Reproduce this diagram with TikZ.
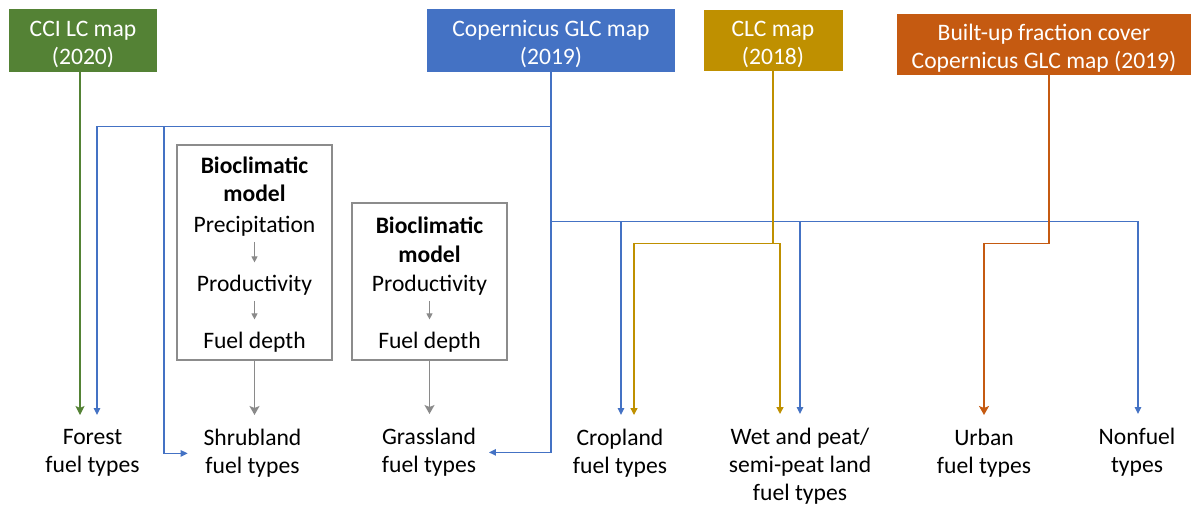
\documentclass[tikz,border=0pt]{standalone}
\usepackage{fontspec}
\setmainfont{Carlito}
\usetikzlibrary{arrows.meta}
\definecolor{ccigreen}{HTML}{548235}
\definecolor{glcblue}{HTML}{4472C4}
\definecolor{clcgold}{HTML}{BF9000}
\definecolor{buorange}{HTML}{C55A11}
\definecolor{boxgray}{HTML}{8C8C8C}
\definecolor{arrowgray}{HTML}{8A8A8A}
\begin{document}
\begin{tikzpicture}[
  x=0.5pt, y=-0.5pt,
  font=\fontsize{11.8}{14.25}\selectfont,
  src/.style={fill=#1, text=white, align=center, inner sep=0pt, minimum height=31.5pt,
    text height=24pt, text depth=0pt},
  lbl/.style={align=center, anchor=north, inner xsep=0pt, inner ysep=7pt,
    font=\fontsize{11.8}{13.9}\selectfont},
  modelbox/.style={draw=boxgray, line width=0.6pt, minimum width=77.5pt, inner sep=0pt},
  mtitle/.style={align=center, anchor=north, inner sep=0pt, font=\fontsize{11.8}{14.25}\selectfont\bfseries},
  mtext/.style={anchor=base, inner sep=0pt},
  bluearrow/.style={draw=glcblue, line width=0.7pt, -{Triangle[length=3.5pt,width=3.2pt]}},
  goldarrow/.style={draw=clcgold, line width=0.7pt, -{Triangle[length=3.5pt,width=3.5pt]}},
  greenarrow/.style={draw=ccigreen, line width=0.7pt, -{Stealth[length=4.5pt,width=4.5pt,inset=1pt]}},
  orangearrow/.style={draw=buorange, line width=0.8pt, -{Stealth[length=4.5pt,width=5pt,inset=1pt]}},
  grayarrow/.style={draw=arrowgray, line width=0.7pt, -{Stealth[length=4.5pt,width=5pt,inset=1pt]}},
  steparrow/.style={draw=arrowgray, line width=0.5pt, -{Triangle[length=3pt,width=3pt]}, shorten <=2.75pt, shorten >=6pt}
]
  \useasboundingbox (0,0) rectangle (1192,504);

  % map sources
  \node[src=ccigreen, minimum width=74pt] (cci) at (83,40.5) {CCI LC map\\(2020)};
  \node[src=glcblue, minimum width=124pt] (glc) at (551,40.5) {Copernicus GLC map\\(2019)};
  \node[src=clcgold, minimum width=69.5pt, minimum height=30.5pt] (clc) at (773,40.5) {CLC map\\(2018)};
  \node[src=buorange, minimum width=147pt, minimum height=30.5pt] (bu) at (1044,44.5) {Built-up fraction cover\\Copernicus GLC map (2019)};

  % fuel type classes
  \node[lbl] (forest) at (92.5,415) {Forest\\fuel types};
  \node[lbl] (shrub) at (252.5,415) {Shrubland\\fuel types};
  \node[lbl] (grass) at (429,414) {Grassland\\fuel types};
  \node[lbl] (crop) at (620,415) {Cropland\\fuel types};
  \node[lbl] (wet) at (800,414) {Wet and peat/\\semi-peat land\\fuel types};
  \node[lbl] (urban) at (984,415) {Urban\\fuel types};
  \node[lbl] (nonfuel) at (1137,414) {Nonfuel\\types};

  % bioclimatic model for shrubland
  \node[modelbox, minimum height=107.5pt] (shrubbox) at (254.5,252.5) {};
  \node[mtitle] (sbio) at (254.5,156.5) {Bioclimatic\\model};
  \node[mtext] (sprec) at (254.5,232.2) {Precipitation};
  \node[mtext] (sprod) at (254.5,291.2) {Productivity};
  \node[mtext] (sdepth) at (254.5,348.2) {Fuel depth};
  \draw[steparrow] (sprec.south) -- (sprec.south |- sprod.north);
  \draw[steparrow] (sprod.south) -- (sprod.south |- sdepth.north);

  % bioclimatic model for grassland
  \node[modelbox, minimum height=78.5pt] (grassbox) at (429.5,281.5) {};
  \node[mtitle] (gbio) at (429.5,216.5) {Bioclimatic\\model};
  \node[mtext] (gprod) at (429.5,291.2) {Productivity};
  \node[mtext] (gdepth) at (429.5,348.2) {Fuel depth};
  \draw[steparrow] (gprod.south) -- (gprod.south |- gdepth.north);

  \draw[grayarrow] (shrubbox.south) -- (shrubbox.south |- shrub.north);
  \draw[grayarrow] (grassbox.south) -- (grassbox.south |- grass.north);

  % CCI LC map
  \draw[greenarrow] ([xshift=-1.5pt]cci.south) -- ([xshift=-1.5pt]cci.south |- forest.north);

  % Copernicus GLC map
  \draw[bluearrow] (glc.south) -- ++(0,54) coordinate (glcup) -| ([xshift=2.25pt]forest.north);
  \coordinate (shrubj) at (164,126);
  \draw[bluearrow] (shrubj) |- ([xshift=-7.75pt]shrub.west);
  \draw[bluearrow] (glc.south) |- ([xshift=6.25pt]grass.east);
  \draw[bluearrow] (glc.south) -- ++(0,149) coordinate (glcmid) -| ([xshift=0.5pt]crop.north);
  \draw[bluearrow] (glcmid) -| (wet.north);
  \draw[bluearrow] (glcmid) -| ([xshift=0.5pt]nonfuel.north);

  % CLC map
  \draw[goldarrow] (clc.south) -- ++(0,172) coordinate (clcj) -| ([xshift=7pt]crop.north);
  \draw[goldarrow] (clcj) -| ([xshift=-10pt]wet.north);

  % built-up fraction cover
  \draw[orangearrow] ([xshift=2.5pt]bu.south) -- ++(0,168) -| (urban.north);
\end{tikzpicture}
\end{document}
